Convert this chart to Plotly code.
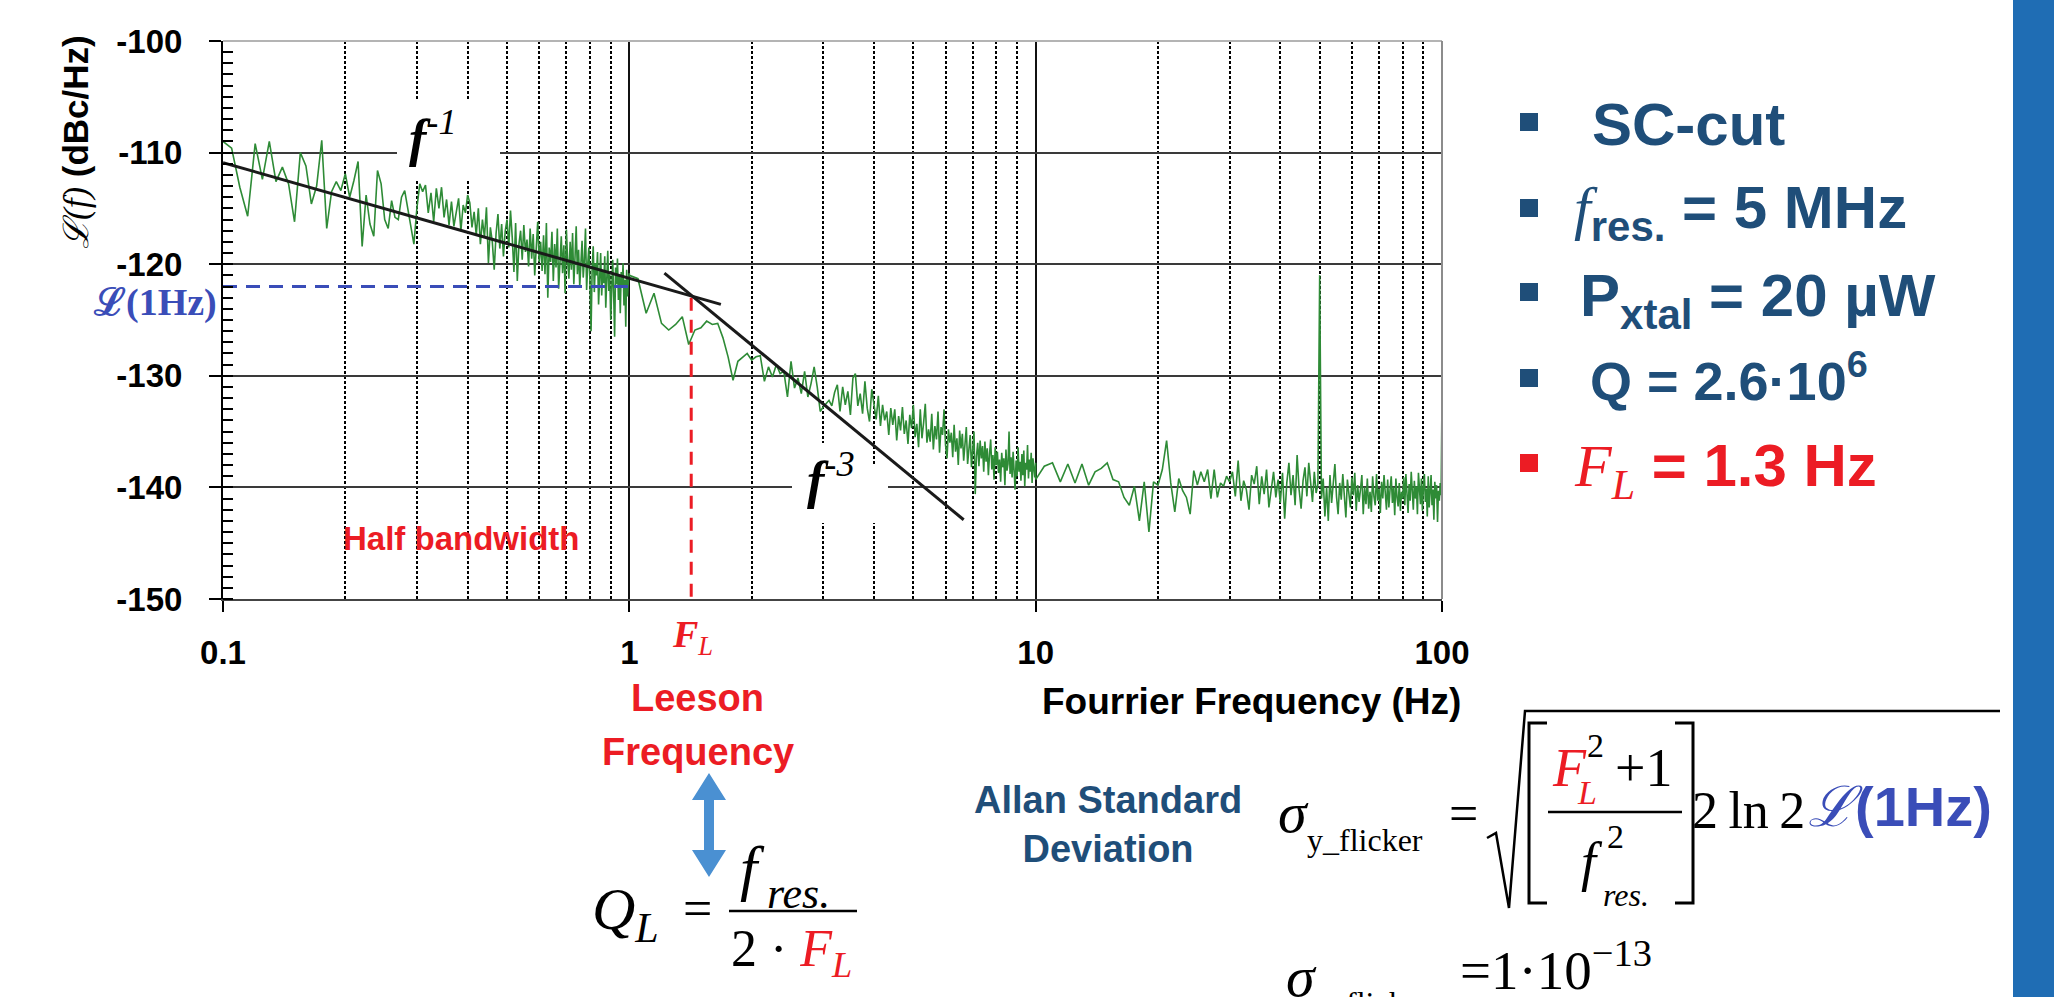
import numpy as np
import plotly.graph_objects as go

# ---------------- data ----------------
# Phase-noise spectrum, three linear-frequency FFT spans
SEG_A_START, SEG_A_STEP = 0.1, 0.005
SEG_A_DBC = [
    -109.0, -109.6, -113.1, -115.7, -109.2, -112.4, -109.0, -112.6, -111.3, -112.8,
    -116.2, -110.0, -111.2, -114.6, -113.0, -108.9, -116.8, -113.5, -112.6, -113.4,
    -111.9, -114.0, -112.5, -110.8, -118.4, -113.8, -116.4, -117.5, -111.6, -112.8,
    -116.0, -116.8, -114.3, -115.8, -116.0, -114.0, -113.4, -115.0, -116.5, -118.2,
    -115.0, -112.8, -113.5,
    -112.9, -115.4, -113.6, -116.2, -113.2, -115.0, -113.1, -115.8, -114.2, -116.5,
    -114.4, -116.6, -115.2, -114.1, -117.0, -114.7, -115.4, -113.8, -114.5, -116.7,
    -115.3, -117.4, -115.0, -118.2, -116.0, -117.6, -114.9, -119.9, -116.7, -118.0,
    -120.5, -117.2, -115.5, -118.6, -116.4, -119.3, -117.0, -116.0, -118.5, -115.2,
    -117.6, -120.7, -116.3, -121.5, -118.2, -117.0, -119.6, -116.5, -118.9, -117.8,
    -120.2, -116.8, -119.5, -117.3, -121.0, -118.1, -116.2, -119.8, -118.0, -120.6,
    -117.4, -120.9, -116.3, -123.0, -118.5, -119.8, -117.1, -121.5, -118.2, -120.3,
    -116.8, -122.2, -119.0, -117.5, -120.8, -118.3, -122.6, -116.9, -119.7, -121.3,
    -118.0, -120.5, -117.2, -121.8, -119.4, -116.6, -120.9, -118.7, -122.0, -119.1,
    -117.9, -121.2, -119.6, -116.8, -122.3, -120.0, -118.5, -121.6, -126.0, -120.4,
    -118.4, -122.5, -119.9, -121.0, -118.9, -123.6, -120.2, -119.0, -122.8, -120.6,
    -121.7, -119.3, -123.9, -120.1, -118.8, -122.4, -120.9, -125.0, -121.2, -119.6,
    -122.6, -126.5, -120.3, -121.8, -119.5, -123.2, -121.0, -124.4, -120.7, -122.1,
    -119.9, -123.7, -121.4, -125.6, -120.5, -122.9, -121.3, -120.8,
]
SEG_B_START, SEG_B_STEP = 1.0, 0.05
SEG_B_DBC = [
    -121.0, -121.3, -124.4, -122.6, -125.3, -125.9, -125.4, -124.7, -127.2, -125.9,
    -125.7, -125.1, -125.4, -125.3, -126.6, -128.3, -130.4, -128.7, -128.3, -128.0,
    -128.6, -128.3, -128.2, -130.5, -129.2, -130.1, -129.0, -129.8, -129.6, -131.9,
    -128.7, -131.1, -130.2, -131.6, -129.6, -131.9, -130.7, -129.2, -131.0, -133.2,
    -132.8, -132.5, -132.2, -132.7,
    -131.5, -130.8, -133.2, -131.0, -132.6, -131.4, -133.5, -130.2, -129.8, -132.7,
    -131.6, -133.4, -130.5, -132.9, -134.1, -131.2, -132.8, -133.9, -131.8, -134.5,
    -132.6, -134.0, -133.2, -135.3, -132.9, -134.4, -133.0, -135.8, -133.6, -134.9,
    -132.8, -135.2, -134.0, -136.1, -133.5, -134.7, -132.6, -135.5, -134.3, -136.4,
    -133.0, -135.6, -134.2, -132.5, -136.0, -134.8, -135.9, -133.4, -136.6, -134.5,
    -135.7, -133.2, -136.9, -134.6, -135.3, -133.0, -136.2, -137.4, -134.8, -136.0,
    -135.1, -137.3, -134.4, -136.8, -135.6, -138.0, -134.9, -136.5, -135.2, -137.6,
    -136.1, -134.6, -137.9, -136.4, -135.3, -138.2, -136.7, -135.0, -140.6, -137.2,
    -136.0, -138.1, -135.8, -137.4, -136.3, -138.6, -135.9, -137.7, -136.5, -138.9,
    -137.0, -135.7, -138.4, -137.1, -139.3, -136.4, -138.0, -136.8, -138.7, -137.5,
    -139.5, -136.9, -138.2, -137.4, -139.8, -136.6, -138.5, -137.9, -135.0, -138.8,
    -137.3, -139.1, -136.8, -138.3, -140.2, -137.6, -139.0, -136.4, -138.6, -137.7,
    -139.4, -137.0, -138.9, -136.7, -139.9, -137.8, -138.4, -136.2, -139.2, -137.5,
    -138.6, -136.9, -139.6, -137.4, -138.3, -139.1, -137.8,
]
SEG_C_START, SEG_C_STEP = 10.0, 0.5
SEG_C_DBC = [
    -139.3, -138.1, -137.8, -139.5, -137.9, -139.6, -137.9, -139.8, -138.6, -138.3,
    -137.8, -139.3, -139.5, -140.9, -141.6, -139.9, -143.0, -139.5, -144.0, -139.5,
    -139.8, -138.4, -135.8, -139.6, -142.2, -139.2, -140.3, -140.9, -142.4, -138.5,
    -139.8, -138.6, -139.5, -138.4, -141.0, -138.4, -140.9, -139.6, -139.9, -139.0,
    -139.5,
    -138.6, -140.8, -137.6, -141.2, -139.4, -140.2, -142.0, -138.9, -139.7, -138.1,
    -141.5, -139.0, -140.6, -138.4, -141.8, -139.9, -138.6, -140.9, -139.3, -141.4,
    -138.7, -142.8, -139.6, -137.8, -140.7, -138.9, -141.6, -137.1, -140.2, -141.9,
    -139.4, -138.2, -140.8, -137.8, -139.9, -141.3, -138.6, -140.5, -139.7, -121.0,
    -141.0, -139.2, -142.6, -140.0, -143.0, -138.9, -141.4, -139.5, -137.9, -140.8,
    -142.4, -139.6, -141.1, -138.8, -140.6, -142.7, -139.3, -140.9, -141.8, -139.1,
    -140.7, -138.7, -142.1, -139.8, -141.3, -140.2, -138.9, -142.4, -140.0, -141.5,
    -139.2, -141.9, -140.4, -142.2, -139.0, -140.8, -141.6, -138.8, -141.2, -140.1,
    -142.3, -139.5, -141.0, -138.9, -140.7, -142.0, -139.3, -141.8, -140.2, -139.0,
    -141.4, -140.0, -142.5, -139.2, -140.9, -141.7, -139.6, -142.1, -140.4, -141.0,
    -139.1, -141.6, -138.8, -140.5, -142.3, -139.7, -141.2, -138.6, -140.8, -142.0,
    -139.4, -141.0, -139.9, -142.4, -138.7, -140.6, -141.5, -139.2, -142.1, -140.0,
    -138.8, -141.3, -140.1, -142.6, -139.0, -141.8, -140.4, -138.9, -141.6, -140.2,
    -142.9, -139.5, -141.0, -139.8, -143.1, -140.3, -141.2, -139.6, -140.7, -132.0,
]

# asymptotes and markers
F1_FREQ, F1_DBC = [0.1, 1.68], [-110.9, -123.6]        # f^-1 line
F3_FREQ, F3_DBC = [1.22, 6.65], [-120.8, -142.9]       # f^-3 line
L1HZ_FREQ, L1HZ_DBC = [0.1, 1.0], [-122.0, -122.0]     # L(1Hz) level
FL_FREQ, FL_DBC = [1.42, 1.42], [-123.0, -151.0]       # Leeson frequency marker

X_TICKS = [0.1, 1, 10, 100]
X_TICK_TEXT = ["0.1", "1", "10", "100"]
X_MINOR = [0.2, 0.3, 0.4, 0.5, 0.6, 0.7, 0.8, 0.9, 2, 3, 4, 5, 6, 7, 8, 9,
           20, 30, 40, 50, 60, 70, 80, 90]
Y_TICKS = [-150, -140, -130, -120, -110, -100]

# ---------------- build ----------------
def seg(start, step, vals):
    return list(np.round(start + step * np.arange(len(vals)), 4))

freq = seg(SEG_A_START, SEG_A_STEP, SEG_A_DBC) + seg(SEG_B_START, SEG_B_STEP, SEG_B_DBC) \
    + seg(SEG_C_START, SEG_C_STEP, SEG_C_DBC)
dbc = SEG_A_DBC + SEG_B_DBC + SEG_C_DBC

W, H = 2054, 997
L, R, T, B = 223, 1442, 41, 599

def px(X):
    return (X - L) / (R - L)

def py(Y):
    return (B - Y) / (B - T)

SANS = "Liberation Sans, Arial, sans-serif"
SERIF = "Liberation Serif, Times New Roman, serif"
DARKBLUE = "#1F4E79"
RED = "#EC1C24"
LBLUE = "#3A4DB8"
GREEN = "#2E8B36"

fig = go.Figure()
fig.add_trace(go.Scatter(x=freq, y=dbc, mode="lines",
                         line=dict(color=GREEN, width=1.6), hoverinfo="skip"))
fig.add_trace(go.Scatter(x=L1HZ_FREQ, y=L1HZ_DBC, mode="lines",
                         line=dict(color=LBLUE, width=3, dash="14px,9px")))
fig.add_trace(go.Scatter(x=FL_FREQ, y=FL_DBC, mode="lines",
                         line=dict(color=RED, width=3, dash="13px,9px")))
fig.add_trace(go.Scatter(x=F1_FREQ, y=F1_DBC, mode="lines",
                         line=dict(color="#1a1a1a", width=3)))
fig.add_trace(go.Scatter(x=F3_FREQ, y=F3_DBC, mode="lines",
                         line=dict(color="#1a1a1a", width=3)))

ann = []

def text(X, Y, t, size, color="black", family=SERIF, xa="center", ya="middle", angle=0):
    ann.append(dict(x=px(X), y=py(Y), xref="paper", yref="paper", text=t, showarrow=False,
                    font=dict(size=size, color=color, family=family),
                    xanchor=xa, yanchor=ya, textangle=angle))

def patch(x0, y0, x1, y1):
    # white box that interrupts the grid behind a label
    ann.append(dict(x=px((x0 + x1) / 2), y=py((y0 + y1) / 2), xref="paper", yref="paper",
                    text=" ", showarrow=False, width=x1 - x0, height=y1 - y0,
                    bgcolor="white", borderpad=0, borderwidth=0,
                    xanchor="center", yanchor="middle", font=dict(size=10)))

shapes = []

def line(points, color="black", width=2.5):
    path = "M " + " L ".join(f"{px(a):.5f},{py(b):.5f}" for a, b in points)
    shapes.append(dict(type="path", path=path, xref="paper", yref="paper",
                       line=dict(color=color, width=width), layer="above"))

def rect(x0, y0, x1, y1, color, layer="above"):
    shapes.append(dict(type="rect", xref="paper", yref="paper",
                       x0=px(x0), x1=px(x1), y0=py(y0), y1=py(y1),
                       fillcolor=color, line=dict(width=0), layer=layer))

# plot frame: light top edge and grey right edge
line([(L, T), (R, T)], color="#b4b4b4", width=2)
line([(R, T), (R, B)], color="#8c8c8c", width=2)

# white patches behind the slope labels (cut the grid)
patch(397, 100, 500, 180)
patch(792, 443, 866, 523)
patch(866, 466, 888, 523)

# slope labels
text(433, 134, "<b><i>f</i></b><sup><i>-1</i></sup>", 52)
text(831, 476, "<b><i>f</i></b><sup><i>-3</i></sup>", 52)
text(461, 538, "<b>Half bandwidth</b>", 33, RED, SANS)

# axis titles
text(76, 142, "<span style='font-family:Liberation Serif'><i>ℒ(f)</i></span> <b>(dBc/Hz)</b>",
     35, "black", SANS, angle=-90)
text(1251, 701, "<b>Fourrier Frequency (Hz)</b>", 37, "black", SANS)
text(219, 302, "<b>ℒ(1Hz)</b>", 38, LBLUE, SERIF, xa="right")
text(692, 637, "<b><i>F</i></b><sub><i>L</i></sub>", 38, RED, SERIF)

# Leeson frequency and Q_L formula
text(697, 698, "<b>Leeson</b>", 38, RED, SANS)
text(698, 752, "<b>Frequency</b>", 38, RED, SANS)
ax_, top_, bot_ = 709, 773, 877
shapes.append(dict(type="path", xref="paper", yref="paper", fillcolor="#4A90D2",
                   line=dict(width=0), layer="above",
                   path="M " + " L ".join(f"{px(a):.5f},{py(b):.5f}" for a, b in [
                       (ax_, top_), (ax_ + 17, top_ + 27), (ax_ + 5, top_ + 27),
                       (ax_ + 5, bot_ - 27), (ax_ + 17, bot_ - 27), (ax_, bot_),
                       (ax_ - 17, bot_ - 27), (ax_ - 5, bot_ - 27), (ax_ - 5, top_ + 27),
                       (ax_ - 17, top_ + 27)]) + " Z"))
text(590, 913, "<i>Q</i><sub><i>L</i></sub>", 60, xa="left")
text(697, 908, "=", 52)
line([(729, 911), (857, 911)], width=2.5)
text(752, 868, "<i>f</i>", 62)
text(765, 893, "<i>res.</i>", 44, xa="left")
text(791, 952, f"2 · <span style='color:{RED}'><i>F</i><sub><i>L</i></sub></span>", 52)

# Allan standard deviation formula
text(1108, 824, "<b>Allan Standard<br>Deviation</b>", 38, DARKBLUE, SANS)
text(1276, 812, "<i>σ</i>", 58, xa="left")
text(1305, 840, "y_flicker", 32, xa="left")
text(1463, 813, "=", 52)
line([(1487, 838), (1496, 833), (1509, 908), (1525, 711), (2000, 711)], width=2.5)
line([(1547, 723), (1529, 723), (1529, 903), (1547, 903)], width=3)
line([(1675, 723), (1693, 723), (1693, 903), (1675, 903)], width=3)
line([(1548, 812), (1682, 812)], width=2.5)
text(1569, 768, "<i>F</i>", 54, RED)
text(1587, 792, "<i>L</i>", 34, RED)
text(1595, 745, "2", 34)
text(1643, 768, "+1", 54)
text(1592, 862, "<i>f</i>", 54)
text(1616, 836, "2", 34)
text(1626, 895, "<i>res.</i>", 32)
text(1748, 810, "2\u2009ln\u20092", 52)
text(1900, 806, "<span style='font-family:Liberation Serif'><i>ℒ</i></span><b>(1Hz)</b>",
     56, LBLUE, SANS)
text(1284, 976, "<i>σ</i>", 58, xa="left")
text(1312, 1003, "y_flicker", 32, xa="left")
text(1458, 966, "=1·10<sup>−13</sup>", 55, xa="left")

# right side list
bullets_y = [122, 208, 292, 378, 463]
for i, yy in enumerate(bullets_y):
    rect(1520, yy - 9, 1538, yy + 9, RED if i == 4 else DARKBLUE)
text(1590, 124, "<b>SC-cut</b>", 60, DARKBLUE, SANS, xa="left")
text(1572, 212, "<span style='font-family:Liberation Serif'><i>f</i></span><b><sub>res.</sub> = 5 MHz</b>",
     60, DARKBLUE, SANS, xa="left")
text(1578, 300, "<b>P<sub>xtal</sub> = 20 µW</b>", 60, DARKBLUE, SANS, xa="left")
text(1588, 377, "<b>Q = 2.6·10<sup>6</sup></b>", 54, DARKBLUE, SANS, xa="left")
text(1572, 470, "<span style='font-family:Liberation Serif'><i>F<sub>L</sub></i></span><b> = 1.3 Hz</b>",
     60, RED, SANS, xa="left")

# blue side bar
rect(2013, 0, 2060, 1000, "#1F6DB4")

fig.update_layout(
    width=W, height=H, autosize=False,
    margin=dict(l=L, r=W - R, t=T, b=H - B, pad=0),
    paper_bgcolor="white", plot_bgcolor="white",
    showlegend=False,
    annotations=ann, shapes=shapes,
    xaxis=dict(type="log", range=[-1, 2], tickvals=X_TICKS,
               ticktext=[f"<b>{t}</b>" for t in X_TICK_TEXT],
               tickfont=dict(family=SANS, size=33, color="black"),
               ticks="outside", ticklen=11, tickwidth=2, tickcolor="black",
               ticklabelstandoff=12,
               showgrid=True, gridcolor="#111111", gridwidth=1.5,
               showline=True, linecolor="#444444", linewidth=2, mirror=False,
               minor=dict(tickvals=X_MINOR, showgrid=True, gridcolor="black",
                          gridwidth=1.6, griddash="3px,2px", ticks=""),
               zeroline=False),
    yaxis=dict(range=[-150, -100], tickvals=Y_TICKS,
               ticktext=[f"<b>{v}</b>" for v in Y_TICKS],
               tickfont=dict(family=SANS, size=33, color="black"),
               ticks="outside", ticklen=12, tickwidth=2, tickcolor="black",
               ticklabelstandoff=20,
               showgrid=True, gridcolor="#3a3a3a", gridwidth=2,
               showline=True, linecolor="black", linewidth=2,
               minor=dict(dtick=1, ticks="inside", ticklen=10, tickwidth=1.5,
                          tickcolor="black", showgrid=False),
               zeroline=False),
)

fig.write_html("out.html", config={"displayModeBar": False},
               post_script="document.body.style.margin='0';")
